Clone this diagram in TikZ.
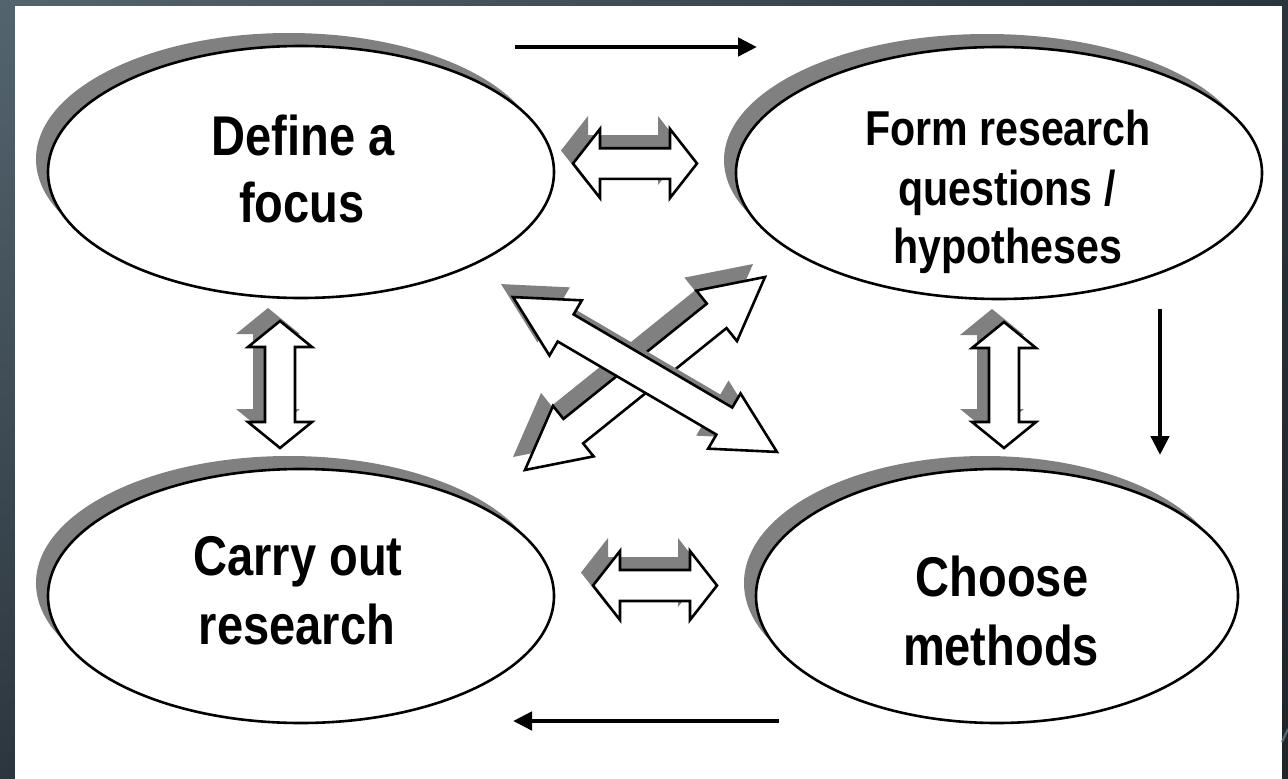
\documentclass[tikz,border=0pt]{standalone}
\usepackage{fontspec}
\usetikzlibrary{shapes.geometric,arrows.meta,shadows,shadings}
\newfontfamily\lblfont[FakeStretch=0.84]{Liberation Sans}

\definecolor{bgTL}{RGB}{84,100,110}
\definecolor{bgTR}{RGB}{42,52,60}
\definecolor{bgBL}{RGB}{44,54,62}
\definecolor{bgBR}{RGB}{30,38,44}
\definecolor{shadowgray}{RGB}{128,128,128}
\definecolor{slateline}{RGB}{92,108,118}

% double-headed block arrow along the local x axis:
% #1 half length, #2 head length, #3 head half width, #4 shaft half width
\newcommand\dblpath[4]{(-#1,0) -- ({-#1+#2},#3) -- ({-#1+#2},#4) -- ({#1-#2},#4) -- ({#1-#2},#3) -- (#1,0) -- ({#1-#2},-#3) -- ({#1-#2},-#4) -- ({-#1+#2},-#4) -- ({-#1+#2},-#3) -- cycle}
% #1 name, #2 #3 centre, #4 angle, #5-#8 as above
\newcommand\blockarrow[8]{%
  \coordinate (#1) at (#2,#3);
  \fill[shadowgray, shift={({#2-12},{#3-13})}, rotate=#4] \dblpath{#5}{#6}{#7}{#8};
  \draw[blockedge, shift={(#2,#3)}, rotate=#4] \dblpath{#5}{#6}{#7}{#8};
}

\tikzset{
  bubble/.style={ellipse, draw=black, line width=2.6pt, fill=white, inner sep=0pt,
    general shadow={fill=shadowgray, shadow xshift=-12pt, shadow yshift=13pt}},
  lbl/.style={anchor=base, inner sep=0pt, font={\lblfont\bfseries\fontsize{56}{67}\selectfont}},
  lblsmall/.style={anchor=base, inner sep=0pt, font={\lblfont\bfseries\fontsize{49}{60}\selectfont}},
  flow/.style={line width=4.5pt, -{Triangle[length=19pt,width=18pt]}},
  blockedge/.style={draw=black, line width=2.6pt, fill=white, line join=miter},
}

\begin{document}
\begin{tikzpicture}[x=1pt,y=-1pt]
  \useasboundingbox (0,0) rectangle (1288,779);
  % slide background and white panel
  \shade[upper left=bgTL, upper right=bgTR, lower left=bgBL, lower right=bgBR]
    (0,0) rectangle (1288,779);
  \fill[white] (15,6) rectangle (1282,779);
  \draw[slateline, line width=2pt] (1282,742) -- (1288,729);

  % the four stages
  \node[bubble, minimum width=506pt, minimum height=252pt] (focus) at (301,172) {};
  \node[bubble, minimum width=526pt, minimum height=252pt] (questions) at (999,173) {};
  \node[bubble, minimum width=506pt, minimum height=254pt] (carry) at (301,596) {};
  \node[bubble, minimum width=482pt, minimum height=254pt] (methods) at (997,596) {};

  \node[lbl] (focus1) at (303,155) {Define a};
  \node[lbl] (focus2) at (302,222) {focus};
  \node[lblsmall] (questions1) at (1008,145) {Form research};
  \node[lblsmall] (questions2) at (1007,205) {questions /};
  \node[lblsmall] (questions3) at (1008,263) {hypotheses};
  \node[lbl] (carry1) at (298,575) {Carry out};
  \node[lbl] (carry2) at (297,644) {research};
  \node[lbl] (methods1) at (1002,596) {Choose};
  \node[lbl] (methods2) at (1001,665) {methods};

  % two-way links between the stages
  \blockarrow{linkTop}{635}{163.5}{0}{62}{27}{34.5}{15.3}
  \blockarrow{linkBottom}{655}{585.5}{0}{62}{27}{34.5}{15.5}
  \blockarrow{linkLeft}{280}{384.5}{90}{63.5}{26}{32}{15}
  \blockarrow{linkRight}{1004}{385}{90}{63}{26}{32}{15}
  \blockarrow{linkRise}{645}{373.5}{38.8}{154}{62}{32.4}{15.7}
  \blockarrow{linkFall}{645}{374.5}{-30.4}{153}{61}{32}{15.7}

  % direction of the cycle
  \coordinate (topA) at (515,47);
  \coordinate (topB) at (757,47);
  \coordinate (rightA) at (1160,309);
  \coordinate (rightB) at (1160,455);
  \coordinate (bottomA) at (779,721);
  \coordinate (bottomB) at (513,721);
  \draw[flow] (topA) -- (topB);
  \draw[flow] (rightA) -- (rightB);
  \draw[flow] (bottomA) -- (bottomB);
\end{tikzpicture}
\end{document}
